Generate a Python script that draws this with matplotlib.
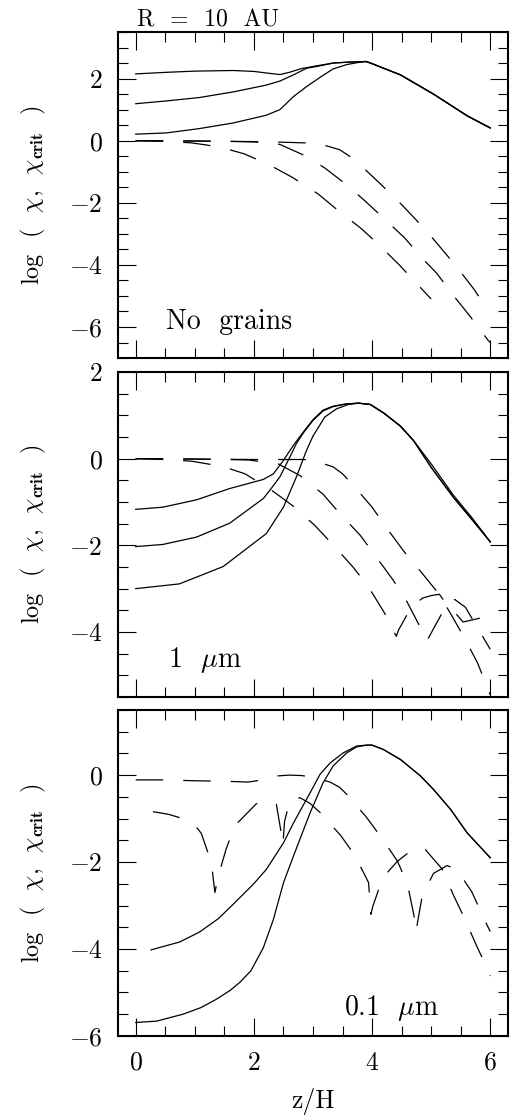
import numpy as np
import matplotlib
matplotlib.use("Agg")
import matplotlib.pyplot as plt
from matplotlib.ticker import MultipleLocator

plt.rcParams['font.family'] = 'serif'
plt.rcParams['font.serif'] = ['cmr10']
plt.rcParams['mathtext.fontset'] = 'cm'
plt.rcParams['axes.formatter.use_mathtext'] = True
plt.rcParams['axes.unicode_minus'] = True

# -----------------------------
# 1. DATA
# -----------------------------
# top panel: no grains
top_s1_z = [0, 0.5, 1.0, 1.65, 2.0, 2.3, 2.44, 2.6, 2.8, 3.0, 3.34, 3.6, 3.9, 4.0, 4.48, 5.04, 5.61, 6.0]
top_s1_y = [2.15, 2.2, 2.24, 2.26, 2.23, 2.16, 2.13, 2.2, 2.32, 2.39, 2.5, 2.53, 2.55, 2.48, 2.12, 1.5, 0.8, 0.41]
top_s2_z = [0, 0.52, 1.08, 1.65, 2.21, 2.44, 2.67, 2.89, 3.12, 3.34, 3.6, 3.9, 4.0, 4.48, 5.04, 5.61, 6.0]
top_s2_y = [1.19, 1.28, 1.39, 1.57, 1.79, 1.92, 2.12, 2.33, 2.41, 2.5, 2.53, 2.55, 2.48, 2.12, 1.5, 0.8, 0.41]
top_s3_z = [0, 0.52, 1.08, 1.65, 2.21, 2.44, 2.67, 2.89, 3.12, 3.34, 3.57, 3.77, 3.9, 4.0, 4.48, 5.04, 5.61, 6.0]
top_s3_y = [0.21, 0.25, 0.39, 0.57, 0.82, 1.0, 1.42, 1.74, 2.04, 2.31, 2.45, 2.52, 2.55, 2.48, 2.12, 1.5, 0.8, 0.41]

top_d1_z = [0, 1.0, 2.0, 2.5, 3.0, 3.2, 3.45, 3.62, 3.79, 3.9, 4.19, 4.48, 4.78, 5.02, 5.29, 5.5, 5.73, 5.94, 6.0]
top_d1_y = [0, -0.01, -0.03, -0.05, -0.08, -0.15, -0.29, -0.5, -0.77, -0.96, -1.48, -2.02, -2.62, -3.13, -3.74, -4.23, -4.8, -5.4, -5.5]
top_d2_z = [0, 1.0, 1.5, 2.0, 2.2, 2.44, 2.86, 3.2, 3.57, 3.88, 4.26, 4.55, 4.88, 5.09, 5.39, 5.64, 5.96, 6.0]
top_d2_y = [0, -0.01, -0.02, -0.04, -0.06, -0.12, -0.48, -0.88, -1.42, -1.94, -2.61, -3.13, -3.85, -4.26, -5.02, -5.61, -6.42, -6.5]
top_d3_z = [0, 0.5, 0.94, 1.2, 1.47, 1.83, 2.05, 2.3, 2.65, 3.09, 3.4, 3.81, 4.11, 4.47, 4.75, 5.0]
top_d3_y = [0, -0.02, -0.07, -0.14, -0.23, -0.42, -0.6, -0.82, -1.18, -1.72, -2.21, -2.82, -3.34, -4.02, -4.59, -5.1]

# middle panel: 1 micron grains
mid_s1_z = [0, 0.46, 1.03, 1.59, 2.16, 2.33, 2.5, 2.67, 2.84, 3.0, 3.17, 3.34, 3.55, 3.77, 3.97, 4.2, 4.48, 4.7, 5.0, 5.38, 5.7, 6.0]
mid_s1_y = [-1.17, -1.12, -0.95, -0.69, -0.48, -0.35, -0.04, 0.31, 0.62, 0.9, 1.12, 1.21, 1.26, 1.28, 1.25, 1.05, 0.75, 0.42, -0.12, -0.85, -1.38, -1.92]
mid_s2_z = [0, 0.46, 1.03, 1.59, 2.16, 2.27, 2.44, 2.61, 2.72, 2.84, 3.0, 3.17, 3.34, 3.55, 3.77, 3.97, 4.2, 4.48, 4.7, 5.0, 5.38, 5.7, 6.0]
mid_s2_y = [-2.03, -1.98, -1.81, -1.49, -0.92, -0.73, -0.42, 0.04, 0.35, 0.6, 0.88, 1.1, 1.2, 1.26, 1.28, 1.25, 1.05, 0.75, 0.42, -0.2, -0.9, -1.42, -1.92]
mid_s3_z = [0, 0.74, 1.48, 2.21, 2.5, 2.72, 2.89, 3.0, 3.2, 3.4, 3.6, 3.77, 3.97, 4.2, 4.48, 4.7, 5.0, 5.38, 5.7, 6.0]
mid_s3_y = [-3.0, -2.89, -2.49, -1.73, -1.12, -0.42, 0.19, 0.52, 0.96, 1.15, 1.25, 1.28, 1.25, 1.05, 0.75, 0.42, -0.2, -0.9, -1.42, -1.92]

mid_d1_z = [0, 1.0, 2.0, 2.5, 2.85, 3.05, 3.34, 3.5, 3.66, 4.0, 4.24, 4.55, 4.82, 5.13, 5.33, 5.54, 5.78, 5.95, 6.0]
mid_d1_y = [0, -0.01, -0.02, -0.02, -0.02, -0.06, -0.19, -0.35, -0.58, -1.12, -1.59, -2.16, -2.6, -3.12, -3.58, -4.08, -4.7, -5.27, -5.45]
mid_d2_z = [0, 1.0, 1.9, 2.41, 2.78, 3.17, 3.45, 3.8, 4.05, 4.36, 4.59, 4.83, 4.93, 5.03, 5.27, 5.4, 5.58, 5.84, 6.0]
mid_d2_y = [0, -0.01, -0.03, -0.12, -0.39, -0.82, -1.26, -1.77, -2.23, -2.81, -3.3, -3.93, -4.2, -3.95, -3.35, -3.25, -3.43, -4.03, -4.4]
mid_d3_z = [0, 0.5, 0.95, 1.47, 1.85, 2.3, 2.65, 3.03, 3.32, 3.67, 3.93, 4.21, 4.41, 4.45, 4.65, 4.85, 5.0, 5.14, 5.33, 5.42, 5.54, 5.86, 6.0]
mid_d3_y = [0, -0.02, -0.06, -0.18, -0.35, -0.73, -1.08, -1.54, -1.96, -2.49, -2.94, -3.56, -4.1, -3.95, -3.46, -3.22, -3.16, -3.13, -3.5, -3.58, -3.77, -3.67, -3.62]

# bottom panel: 0.1 micron grains
bot_s1_z = [0.26, 0.74, 1.08, 1.4, 1.65, 1.99, 2.21, 2.5, 2.67, 2.95, 3.12, 3.29, 3.51, 3.74, 3.91, 4.0, 4.19, 4.48, 4.82, 5.04, 5.33, 5.61, 6.0]
bot_s1_y = [-4.02, -3.84, -3.61, -3.3, -2.97, -2.51, -2.17, -1.56, -1.1, -0.41, 0.02, 0.28, 0.51, 0.67, 0.69, 0.69, 0.59, 0.36, -0.02, -0.33, -0.79, -1.33, -1.9]
bot_s2_z = [0, 0.35, 0.8, 1.1, 1.36, 1.6, 1.76, 1.95, 2.16, 2.33, 2.5, 2.67, 2.95, 3.17, 3.34, 3.57, 3.74, 3.91, 4.0, 4.19, 4.48, 4.82, 5.04, 5.33, 5.61, 6.0]
bot_s2_y = [-5.69, -5.66, -5.5, -5.35, -5.16, -4.95, -4.77, -4.5, -3.97, -3.32, -2.48, -1.86, -0.87, -0.18, 0.21, 0.51, 0.65, 0.69, 0.69, 0.59, 0.36, -0.02, -0.33, -0.79, -1.33, -1.9]

bot_d1_z = [0, 0.5, 1.0, 1.5, 1.9, 2.1, 2.38, 2.6, 2.81, 3.0, 3.29, 3.45, 3.57, 3.9, 4.15, 4.43, 4.6, 4.71, 4.74, 4.76, 4.85, 5.04, 5.27, 5.44, 5.69, 5.9, 6.0]
bot_d1_y = [-0.11, -0.11, -0.13, -0.14, -0.16, -0.12, -0.02, 0.0, -0.01, -0.05, -0.16, -0.28, -0.44, -0.96, -1.42, -1.98, -2.51, -3.24, -3.6, -3.46, -2.77, -2.26, -2.08, -2.18, -2.69, -3.32, -3.6]
bot_d2_z = [0.29, 0.55, 0.8, 1.0, 1.11, 1.28, 1.34, 1.39, 1.53, 1.68, 2.04, 2.2, 2.38, 2.47, 2.49, 2.52, 2.61, 2.78, 2.95, 3.12, 3.47, 3.71, 3.94, 3.98, 4.01, 4.18, 4.43, 4.65, 4.82, 4.9, 5.18, 5.38, 5.56, 5.77, 5.95, 6.0]
bot_d2_y = [-0.84, -0.9, -1.0, -1.15, -1.34, -2.01, -2.7, -2.36, -1.7, -1.16, -0.66, -0.58, -0.67, -1.39, -1.6, -1.06, -0.58, -0.52, -0.65, -0.86, -1.39, -1.85, -2.47, -3.2, -3.03, -2.36, -1.98, -1.75, -1.65, -1.71, -2.15, -2.77, -3.28, -3.93, -4.45, -4.62]

# -----------------------------
# 2. FIGURE
# -----------------------------
fig = plt.figure(figsize=(5.13, 11.15), dpi=100)
left, width = 0.2300, 0.7602
ax1 = fig.add_axes([left, 0.6789, width, 0.2924])
ax2 = fig.add_axes([left, 0.3749, width, 0.2915])
ax3 = fig.add_axes([left, 0.0709, width, 0.2924])

lw = 0.9
dash = (0, (22, 16))

panels = [
    (ax1, [(top_s1_z, top_s1_y), (top_s2_z, top_s2_y), (top_s3_z, top_s3_y)],
          [(top_d1_z, top_d1_y), (top_d2_z, top_d2_y), (top_d3_z, top_d3_y)], (-7, 3.5)),
    (ax2, [(mid_s1_z, mid_s1_y), (mid_s2_z, mid_s2_y), (mid_s3_z, mid_s3_y)],
          [(mid_d1_z, mid_d1_y), (mid_d2_z, mid_d2_y), (mid_d3_z, mid_d3_y)], (-5.5, 2)),
    (ax3, [(bot_s1_z, bot_s1_y), (bot_s2_z, bot_s2_y)],
          [(bot_d1_z, bot_d1_y), (bot_d2_z, bot_d2_y)], (-6, 1.5)),
]

for ax, solids, dashed, ylim in panels:
    for z, y in solids:
        ax.plot(z, y, color="black", lw=lw)
    for z, y in dashed:
        ax.plot(z, y, color="black", lw=lw, linestyle=dash)
    ax.set_xlim(-0.3, 6.3)
    ax.set_ylim(*ylim)
    ax.xaxis.set_major_locator(MultipleLocator(2))
    ax.xaxis.set_minor_locator(MultipleLocator(0.5))
    ax.yaxis.set_major_locator(MultipleLocator(2))
    ax.yaxis.set_minor_locator(MultipleLocator(0.5))
    ax.tick_params(which="both", direction="in", top=True, right=True, width=0.8,
                   labelsize=18.5, pad=11)
    ax.tick_params(which="major", length=13)
    ax.tick_params(which="minor", length=7)
    for sp in ax.spines.values():
        sp.set_linewidth(1.5)
    ax.set_ylabel(r"log  (  $\chi$,  $\chi_{\mathbf{crit}}$  )", fontsize=17.5, va="center")
    ax.yaxis.set_label_coords(-0.217, 0.5)

ax1.tick_params(labelbottom=False)
ax2.tick_params(labelbottom=False)
ax3.set_xlabel("z/H", fontsize=18.5, va="center")
ax3.xaxis.set_label_coords(0.5, -0.202)

ax1.text(0.02, 3.67, "R  =  10  AU", fontsize=17, va="baseline")
ax1.text(0.52, -6.08, "No  grains", fontsize=20, va="baseline")
ax2.text(0.54, -4.81, r"1  $\mu$m", fontsize=20, va="baseline")
ax3.text(3.52, -5.52, r"0.1  $\mu$m", fontsize=20, va="baseline")

fig.savefig("out.png", dpi=100)
